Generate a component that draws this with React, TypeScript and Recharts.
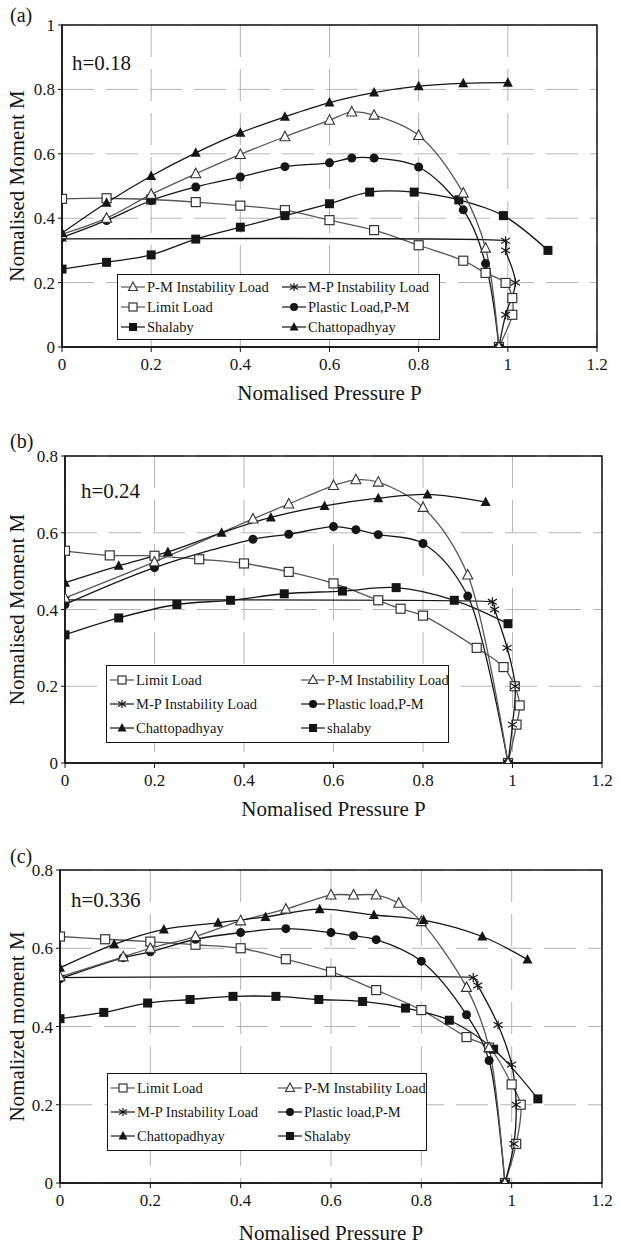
import { CartesianGrid, Legend, Line, LineChart, ReferenceArea, XAxis, YAxis } from "recharts";

type Pt = [number, number];
type Kind = "limit" | "pm" | "mp" | "plastic" | "chatto" | "shalaby";

// (a) h=0.18  — [pressure P, moment M]
const aPM: Pt[] = [[0, 0.35], [0.1, 0.4], [0.2, 0.474], [0.3, 0.538], [0.4, 0.598], [0.5, 0.653], [0.6, 0.704], [0.65, 0.73], [0.7, 0.72], [0.8, 0.657], [0.9, 0.478], [0.95, 0.307], [0.98, 0]];
const aMP: Pt[] = [[0, 0.336], [0.995, 0.33], [0.995, 0.3], [1.017, 0.2], [0.995, 0.1], [0.98, 0]];
const aLimit: Pt[] = [[0, 0.46], [0.1, 0.462], [0.2, 0.458], [0.3, 0.45], [0.4, 0.439], [0.5, 0.425], [0.6, 0.394], [0.7, 0.363], [0.8, 0.316], [0.9, 0.268], [0.95, 0.23], [0.995, 0.199], [1.01, 0.152], [1.01, 0.1], [0.98, 0]];
const aPlastic: Pt[] = [[0, 0.34], [0.1, 0.393], [0.2, 0.455], [0.3, 0.497], [0.4, 0.528], [0.5, 0.56], [0.6, 0.572], [0.65, 0.587], [0.7, 0.587], [0.8, 0.559], [0.9, 0.426], [0.95, 0.259], [0.98, 0]];
const aShalaby: Pt[] = [[0, 0.242], [0.1, 0.263], [0.2, 0.286], [0.3, 0.335], [0.4, 0.372], [0.5, 0.408], [0.6, 0.445], [0.69, 0.481], [0.79, 0.481], [0.89, 0.457], [0.99, 0.408], [1.09, 0.3]];
const aChatto: Pt[] = [[0, 0.354], [0.1, 0.448], [0.2, 0.531], [0.3, 0.603], [0.4, 0.665], [0.5, 0.715], [0.6, 0.759], [0.7, 0.79], [0.8, 0.81], [0.9, 0.819], [1.0, 0.821]];

// (b) h=0.24
const bLimit: Pt[] = [[0, 0.553], [0.1, 0.541], [0.2, 0.54], [0.3, 0.531], [0.4, 0.52], [0.5, 0.498], [0.6, 0.468], [0.7, 0.424], [0.75, 0.402], [0.8, 0.384], [0.92, 0.3], [0.98, 0.25], [1.005, 0.2], [1.016, 0.15], [1.009, 0.1], [0.99, 0]];
const bPM: Pt[] = [[0, 0.43], [0.2, 0.524], [0.42, 0.636], [0.5, 0.675], [0.6, 0.723], [0.65, 0.738], [0.7, 0.732], [0.8, 0.666], [0.9, 0.49], [0.99, 0]];
const bMP: Pt[] = [[0, 0.425], [0.955, 0.42], [0.96, 0.4], [0.988, 0.3], [1.006, 0.2], [1.0, 0.1], [0.99, 0]];
const bPlastic: Pt[] = [[0, 0.413], [0.2, 0.509], [0.42, 0.583], [0.5, 0.596], [0.6, 0.616], [0.65, 0.608], [0.7, 0.595], [0.8, 0.572], [0.9, 0.435], [0.99, 0]];
const bChatto: Pt[] = [[0, 0.47], [0.12, 0.514], [0.23, 0.55], [0.35, 0.6], [0.46, 0.64], [0.58, 0.67], [0.7, 0.69], [0.81, 0.7], [0.94, 0.68]];
const bShalaby: Pt[] = [[0, 0.334], [0.12, 0.378], [0.25, 0.413], [0.37, 0.424], [0.49, 0.441], [0.62, 0.448], [0.74, 0.457], [0.87, 0.424], [0.99, 0.363]];

// (c) h=0.336
const cLimit: Pt[] = [[0, 0.63], [0.1, 0.623], [0.2, 0.617], [0.3, 0.609], [0.4, 0.6], [0.5, 0.572], [0.6, 0.54], [0.7, 0.493], [0.8, 0.442], [0.9, 0.373], [0.95, 0.346], [1.0, 0.252], [1.02, 0.2], [1.01, 0.1], [0.985, 0]];
const cPM: Pt[] = [[0, 0.527], [0.14, 0.578], [0.2, 0.6], [0.3, 0.63], [0.4, 0.67], [0.5, 0.7], [0.6, 0.736], [0.65, 0.736], [0.7, 0.736], [0.75, 0.715], [0.8, 0.668], [0.9, 0.5], [0.95, 0.346], [0.985, 0]];
const cMP: Pt[] = [[0, 0.525], [0.915, 0.525], [0.925, 0.505], [0.97, 0.404], [1.0, 0.303], [1.01, 0.2], [1.005, 0.1], [0.985, 0]];
const cPlastic: Pt[] = [[0, 0.522], [0.14, 0.576], [0.2, 0.591], [0.3, 0.623], [0.4, 0.64], [0.5, 0.65], [0.6, 0.64], [0.65, 0.632], [0.7, 0.622], [0.8, 0.567], [0.9, 0.43], [0.95, 0.313], [0.985, 0]];
const cChatto: Pt[] = [[0, 0.55], [0.12, 0.61], [0.23, 0.648], [0.35, 0.665], [0.455, 0.68], [0.575, 0.7], [0.695, 0.685], [0.805, 0.672], [0.935, 0.63], [1.035, 0.571]];
const cShalaby: Pt[] = [[0, 0.42], [0.097, 0.436], [0.194, 0.46], [0.288, 0.469], [0.383, 0.477], [0.478, 0.477], [0.573, 0.469], [0.67, 0.464], [0.765, 0.447], [0.862, 0.416], [0.96, 0.342], [1.058, 0.215]];

const xTicks = [0, 0.2, 0.4, 0.6, 0.8, 1, 1.2];
const yTicksA = [0, 0.2, 0.4, 0.6, 0.8, 1];
const yTicksBC = [0, 0.2, 0.4, 0.6, 0.8];

const legendA: Kind[] = ["pm", "mp", "limit", "plastic", "shalaby", "chatto"];
const legendB: Kind[] = ["limit", "pm", "mp", "plastic", "chatto", "shalaby"];

const namesA: Record<Kind, string> = {
  pm: "P-M Instability Load",
  mp: "M-P Instability Load",
  limit: "Limit Load",
  plastic: "Plastic Load,P-M",
  shalaby: "Shalaby",
  chatto: "Chattopadhyay",
};
const namesB: Record<Kind, string> = { ...namesA, plastic: "Plastic load,P-M", shalaby: "shalaby" };
const namesC: Record<Kind, string> = { ...namesA, plastic: "Plastic load,P-M" };

const FONT = '"Liberation Serif", "Times New Roman", serif';
const INK = "#151515";

const fmt = (v: number) => String(+v.toFixed(1));
const rows = (pts: Pt[]) => pts.map(([p, m]) => ({ p, m }));

// centripetal catmull-rom, close to the spreadsheet "smoothed line";
// handles are capped so a long straight run doesn't bow into a short turn
function smooth(context: any) {
  let pts: number[][] = [];
  const dist = (a: number[], b: number[]) => Math.hypot(b[0] - a[0], b[1] - a[1]);
  const cap = (from: number[], c: number[], max: number) => {
    const len = dist(from, c);
    if (len <= max || len < 1e-9) return c;
    const k = max / len;
    return [from[0] + (c[0] - from[0]) * k, from[1] + (c[1] - from[1]) * k];
  };
  return {
    areaStart() {},
    areaEnd() {},
    lineStart() {
      pts = [];
    },
    point(x: number, y: number) {
      pts.push([x, y]);
    },
    lineEnd() {
      const n = pts.length;
      if (!n) return;
      context.moveTo(pts[0][0], pts[0][1]);
      for (let i = 0; i < n - 1; i++) {
        const p1 = pts[i];
        const p2 = pts[i + 1];
        const l12 = dist(p1, p2);
        const a12 = Math.sqrt(l12);
        let c1 = p1;
        let c2 = p2;
        if (i > 0) {
          const p0 = pts[i - 1];
          const l01 = dist(p0, p1);
          const a01 = Math.sqrt(l01);
          if (a01 > 1e-9) {
            const a = 2 * l01 + 3 * a01 * a12 + l12;
            const k = 3 * a01 * (a01 + a12);
            c1 = [(p1[0] * a - p0[0] * l12 + p2[0] * l01) / k, (p1[1] * a - p0[1] * l12 + p2[1] * l01) / k];
            c1 = cap(p1, c1, 0.5 * Math.min(l01, l12));
          }
        }
        if (i + 2 < n) {
          const p3 = pts[i + 2];
          const l23 = dist(p2, p3);
          const a23 = Math.sqrt(l23);
          if (a23 > 1e-9) {
            const b = 2 * l23 + 3 * a23 * a12 + l12;
            const k = 3 * a23 * (a23 + a12);
            c2 = [(p2[0] * b + p1[0] * l23 - p3[0] * l12) / k, (p2[1] * b + p1[1] * l23 - p3[1] * l12) / k];
            c2 = cap(p2, c2, 0.5 * Math.min(l12, l23));
          }
        }
        context.bezierCurveTo(c1[0], c1[1], c2[0], c2[1], p2[0], p2[1]);
      }
    },
  };
}

function Marker({ kind, cx, cy, s = 9 }: { kind: Kind; cx: number; cy: number; s?: number }) {
  const h = s / 2;
  switch (kind) {
    case "limit":
      return <rect x={cx - h} y={cy - h} width={s} height={s} fill="#fff" stroke="#333" strokeWidth={1.2} />;
    case "shalaby":
      return <rect x={cx - h} y={cy - h} width={s} height={s} fill={INK} />;
    case "pm":
      return (
        <polygon
          points={`${cx},${cy - h - 1} ${cx + h + 0.5},${cy + h - 0.5} ${cx - h - 0.5},${cy + h - 0.5}`}
          fill="#fff"
          stroke="#333"
          strokeWidth={1.1}
        />
      );
    case "chatto":
      return <polygon points={`${cx},${cy - h - 1} ${cx + h + 0.5},${cy + h - 0.5} ${cx - h - 0.5},${cy + h - 0.5}`} fill={INK} />;
    case "plastic":
      return <circle cx={cx} cy={cy} r={h} fill={INK} />;
    default:
      return (
        <g stroke={INK} strokeWidth={1.2}>
          <line x1={cx} y1={cy - h} x2={cx} y2={cy + h} />
          <line x1={cx - h} y1={cy - h * 0.6} x2={cx + h} y2={cy + h * 0.6} />
          <line x1={cx - h} y1={cy + h * 0.6} x2={cx + h} y2={cy - h * 0.6} />
        </g>
      );
  }
}

const lineColor = (k: Kind) => (k === "pm" || k === "limit" ? "#555" : INK);

function PanelLegend({ items, names, colGap, rowH }: { items: Kind[]; names: Record<Kind, string>; colGap: number; rowH: number }) {
  return (
    <div
      style={{
        border: `1.5px solid ${INK}`,
        background: "#fff",
        display: "grid",
        gridTemplateColumns: `${colGap}px auto`,
        padding: "2px 0 2px 3px",
        fontFamily: FONT,
        fontSize: 14.5,
        color: INK,
        boxSizing: "border-box",
      }}
    >
      {items.map((k) => (
        <div key={k} style={{ display: "flex", alignItems: "center", height: rowH, whiteSpace: "nowrap" }}>
          <svg width={24} height={12} style={{ marginRight: 2 }}>
            <line x1={0} y1={6} x2={24} y2={6} stroke={lineColor(k)} strokeWidth={1.2} />
            <Marker kind={k} cx={12} cy={6} s={8} />
          </svg>
          <span>{names[k]}</span>
        </div>
      ))}
    </div>
  );
}

type Series = { kind: Kind; pts: Pt[] };

function Panel({
  top,
  height,
  plotTop,
  plotBottom,
  plotLeft,
  plotRight,
  yMax,
  yTicks,
  yTitle,
  xTitleOffset,
  series,
  legend,
}: {
  top: number;
  height: number;
  plotTop: number;
  plotBottom: number;
  plotLeft: number;
  plotRight: number;
  yMax: number;
  yTicks: number[];
  yTitle: string;
  xTitleOffset: number;
  series: Series[];
  legend: { items: Kind[]; names: Record<Kind, string>; left: number; top: number; width: number; colGap: number; rowH: number };
}) {
  const tickStyle = { fontFamily: FONT, fontSize: 17, fill: INK };
  return (
    <div style={{ position: "absolute", left: 0, top }}>
      <LineChart width={621} height={height} margin={{ top: plotTop, right: 621 - plotRight, bottom: 0, left: 0 }}>
        <CartesianGrid stroke="#b4b4b4" strokeDasharray="32 12" />
        <XAxis
          dataKey="p"
          type="number"
          domain={[0, 1.2]}
          ticks={xTicks}
          tickFormatter={fmt}
          allowDataOverflow
          height={height - plotBottom}
          tick={tickStyle}
          tickSize={5}
          tickMargin={6}
          stroke={INK}
          axisLine={{ stroke: INK, strokeWidth: 1.5 }}
          label={{ value: "Nomalised Pressure P", position: "insideTop", offset: xTitleOffset, style: { fontFamily: FONT, fontSize: 21, fill: INK } }}
        />
        <YAxis
          dataKey="m"
          type="number"
          domain={[0, yMax]}
          ticks={yTicks}
          tickFormatter={fmt}
          allowDataOverflow
          width={plotLeft}
          tick={tickStyle}
          tickSize={4}
          tickMargin={3}
          stroke={INK}
          axisLine={{ stroke: INK, strokeWidth: 1.5 }}
          label={{
            value: yTitle,
            angle: -90,
            position: "insideLeft",
            offset: 17,
            style: { fontFamily: FONT, fontSize: 21, fill: INK, textAnchor: "middle" },
          }}
        />
        <ReferenceArea x1={0} x2={1.2} y1={0} y2={yMax} fill="none" stroke={INK} strokeWidth={1.5} />
        {series.map((s, i) => (
          <Line
            key={`${s.kind}-${i}`}
            data={rows(s.pts)}
            dataKey="m"
            type={smooth as any}
            stroke={lineColor(s.kind)}
            strokeWidth={1.3}
            isAnimationActive={false}
            legendType="none"
            dot={(p: any) => <Marker key={`${s.kind}-${p.index}`} kind={s.kind} cx={p.cx} cy={p.cy} />}
            activeDot={false}
          />
        ))}
        <Legend
          layout="vertical"
          verticalAlign="middle"
          align="center"
          wrapperStyle={{ left: legend.left, top: legend.top, width: legend.width }}
          content={() => <PanelLegend items={legend.items} names={legend.names} colGap={legend.colGap} rowH={legend.rowH} />}
        />
      </LineChart>
    </div>
  );
}

const textStyle = (left: number, top: number, size: number) => ({
  position: "absolute" as const,
  left,
  top,
  fontFamily: FONT,
  fontSize: size,
  lineHeight: "24px",
  color: INK,
  whiteSpace: "nowrap" as const,
});

export default function App() {
  return (
    <div style={{ position: "absolute", left: 0, top: 0, width: 621, height: 1244, background: "#fff" }}>
      <Panel
        top={0}
        height={410}
        plotTop={25}
        plotBottom={347}
        plotLeft={62}
        plotRight={597}
        yMax={1}
        yTicks={yTicksA}
        yTitle="Nomalised Moment M"
        xTitleOffset={38}
        series={[
          { kind: "limit", pts: aLimit },
          { kind: "mp", pts: aMP },
          { kind: "shalaby", pts: aShalaby },
          { kind: "plastic", pts: aPlastic },
          { kind: "pm", pts: aPM },
          { kind: "chatto", pts: aChatto },
        ]}
        legend={{ items: legendA, names: namesA, left: 117, top: 274, width: 323, colGap: 161, rowH: 20 }}
      />
      <Panel
        top={410}
        height={410}
        plotTop={46}
        plotBottom={353}
        plotLeft={65}
        plotRight={602}
        yMax={0.8}
        yTicks={yTicksBC}
        yTitle="Nomalised Moment M"
        xTitleOffset={38}
        series={[
          { kind: "limit", pts: bLimit },
          { kind: "mp", pts: bMP },
          { kind: "shalaby", pts: bShalaby },
          { kind: "plastic", pts: bPlastic },
          { kind: "pm", pts: bPM },
          { kind: "chatto", pts: bChatto },
        ]}
        legend={{ items: legendB, names: namesB, left: 106, top: 255, width: 343, colGap: 191, rowH: 24 }}
      />
      <Panel
        top={820}
        height={424}
        plotTop={50}
        plotBottom={363}
        plotLeft={60}
        plotRight={602}
        yMax={0.8}
        yTicks={yTicksBC}
        yTitle="Nomalized moment M"
        xTitleOffset={42}
        series={[
          { kind: "limit", pts: cLimit },
          { kind: "mp", pts: cMP },
          { kind: "shalaby", pts: cShalaby },
          { kind: "plastic", pts: cPlastic },
          { kind: "pm", pts: cPM },
          { kind: "chatto", pts: cChatto },
        ]}
        legend={{ items: legendB, names: namesC, left: 107, top: 253, width: 320, colGap: 167, rowH: 24 }}
      />
      <div style={textStyle(10, 3, 20)}>(a)</div>
      <div style={textStyle(10, 429, 20)}>(b)</div>
      <div style={textStyle(10, 844, 20)}>(c)</div>
      <div style={textStyle(72, 51, 21)}>h=0.18</div>
      <div style={textStyle(81, 479, 21)}>h=0.24</div>
      <div style={textStyle(71, 888, 21)}>h=0.336</div>
    </div>
  );
}
